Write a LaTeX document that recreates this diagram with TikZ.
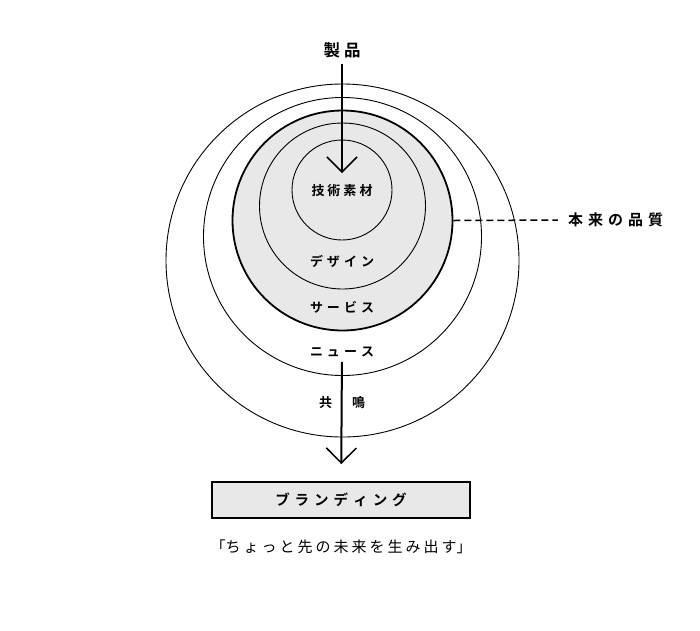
\documentclass[tikz,border=0pt]{standalone}
\usepackage{fontspec}
\usetikzlibrary{arrows.meta}
\newfontfamily\jp{Noto Sans CJK JP}[BoldFont={Noto Sans CJK JP Bold}]
\definecolor{fillgray}{HTML}{E8E8E8}
\newcommand\gp[1]{\kern#1pt\relax}
\begin{document}
\begin{tikzpicture}[x=1pt,y=-1pt,
  ring/.style={circle,draw=black,line width=0.9pt,inner sep=0pt},
  lab/.style={inner sep=0pt,font=\jp\bfseries\fontsize{13pt}{13pt}\selectfont},
  biglab/.style={inner sep=0pt,font=\jp\bfseries\fontsize{16.5pt}{16.5pt}\selectfont},
  sidelab/.style={inner sep=0pt,font=\jp\bfseries\fontsize{15pt}{15pt}\selectfont},
  arr/.style={line width=2pt,-{Straight Barb[length=15pt,width=30pt,line width=1.5pt]}},
  brandbox/.style={draw=black,line width=2pt,fill=fillgray,minimum width=258pt,minimum height=36pt,inner sep=0pt,font=\jp\bfseries\fontsize{14.5pt}{14.5pt}\selectfont},
  subtxt/.style={inner sep=0pt,font=\jp\fontsize{15pt}{15pt}\selectfont}
]
\useasboundingbox (0,0) rectangle (700,630);
% circles
\node[ring,minimum size=353pt] (c1) at (342.5,260.5) {};
\node[ring,minimum size=278pt] (c2) at (342.5,236.5) {};
\node[ring,minimum size=220pt,line width=1.8pt,fill=fillgray] (c3) at (342.5,220.5) {};
\node[ring,minimum size=166pt] (c4) at (342.5,206) {};
\node[ring,minimum size=100pt] (c5) at (342,190) {};
% labels
\node[biglab] (prod) at (342,50) {製\gp{4}品};
\node[lab] (tech) at (342,190.5) {技\gp{3}術\gp{3}素\gp{3}材};
\node[lab] (design) at (342,261) {デ\gp{4}ザ\gp{4}イ\gp{4}ン};
\node[lab] (service) at (342,307) {サ\gp{4}ー\gp{4}ビ\gp{4}ス};
\node[lab] (news) at (342,352) {ニ\gp{4}ュ\gp{4}ー\gp{4}ス};
\node[lab] (reso) at (342,403) {共\gp{20}鳴};
\node[sidelab] (quality) at (615.5,220) {本\gp{5}来\gp{5}の\gp{5}品\gp{5}質};
\node[brandbox] (brand) at (341,500) {ブ\gp{5}ラ\gp{5}ン\gp{5}デ\gp{5}ィ\gp{5}ン\gp{5}グ};
\node[subtxt] (slogan) at (341,547) {「ち\gp{3}ょ\gp{3}っ\gp{3}と\gp{3}先\gp{3}の\gp{3}未\gp{3}来\gp{3}を\gp{3}生\gp{3}み\gp{3}出\gp{3}す」};
% connectors
\coordinate (tip1) at (342,173);
\draw[arr,shorten <=6pt] (prod) -- (tip1);
\draw[arr,shorten <=4.5pt,shorten >=17pt] (news) -- (brand);
\draw[line width=1.5pt,dash pattern=on 7pt off 4pt,shorten >=10pt] (c3.east) -- (quality.west);
\end{tikzpicture}
\end{document}
